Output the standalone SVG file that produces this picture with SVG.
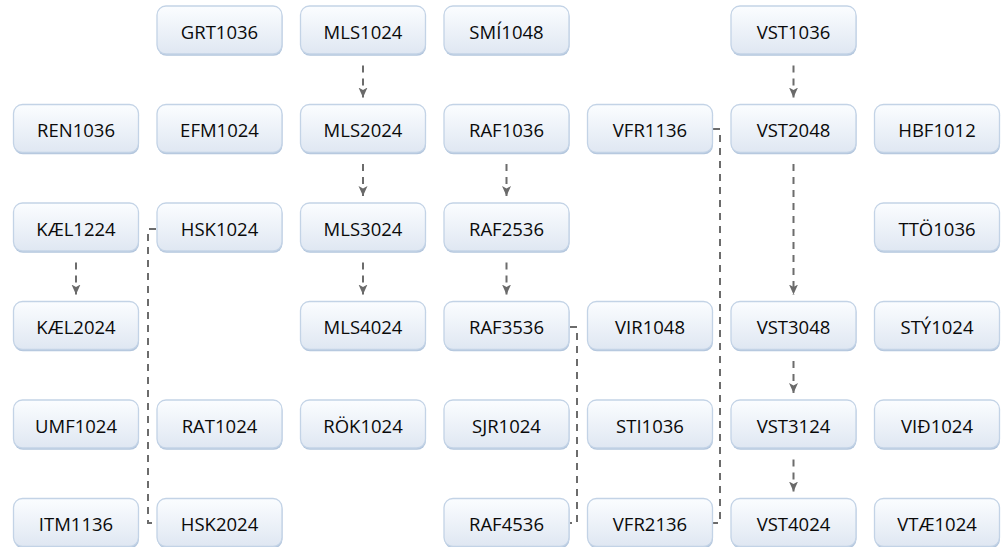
<svg xmlns="http://www.w3.org/2000/svg" width="1003" height="547" viewBox="0 0 1003 547">
<defs>
<linearGradient id="g" x1="0" y1="0" x2="0" y2="1">
<stop offset="0" stop-color="#fbfdff"/>
<stop offset="1" stop-color="#dfe7f2"/>
</linearGradient>
<marker id="ah" viewBox="0 0 10 10" refX="10" refY="5" markerWidth="10" markerHeight="10" markerUnits="userSpaceOnUse" orient="auto">
<path d="M0,0.5 L10,5 L0,9.5 L2.5,5 z" fill="#6a6a6a"/>
</marker>
<g id="box">
<rect x="0.5" y="1.8" width="125" height="48" rx="9" fill="#b3c6dd"/>
<rect x="0" y="0" width="125" height="48" rx="9" fill="url(#g)" stroke="#c3d3e6" stroke-width="1.3"/>
</g>
</defs>
<style>
text{font-family:"Open Sans","Liberation Sans",sans-serif;font-size:18.5px;fill:#0a0a0a;text-anchor:middle;dominant-baseline:central}
.c{fill:none;stroke:#6c6c6c;stroke-width:2;stroke-dasharray:7 6}
.a{marker-end:url(#ah)}
</style>
<rect width="1003" height="547" fill="#fff"/>
<g id="connectors">
<path class="c a" d="M363,65.5 V97.5"/>
<path class="c a" d="M363,164 V196"/>
<path class="c a" d="M363,262.5 V294.5"/>
<path class="c a" d="M506.5,164 V196"/>
<path class="c a" d="M506.5,262.5 V294.5"/>
<path class="c a" d="M793.5,65.5 V97.5"/>
<path class="c a" d="M793.5,164 V294.5"/>
<path class="c a" d="M793.5,361 V393"/>
<path class="c a" d="M793.5,459.5 V491.5"/>
<path class="c a" d="M76,262.5 V294.5"/>
<path class="c" d="M156,229 H148 V523 H156"/>
<path class="c" d="M570,327 H577 V523 H570"/>
<path class="c" d="M713,129 H720 V523 H713"/>
</g>
<g id="n-GRT1036" transform="translate(157,6)"><use href="#box"/><text x="62.5" y="25">GRT1036</text></g>
<g id="n-MLS1024" transform="translate(300.5,6)"><use href="#box"/><text x="62.5" y="25">MLS1024</text></g>
<g id="n-SMI1048" transform="translate(444,6)"><use href="#box"/><text x="62.5" y="25">SMÍ1048</text></g>
<g id="n-VST1036" transform="translate(731,6)"><use href="#box"/><text x="62.5" y="25">VST1036</text></g>
<g id="n-REN1036" transform="translate(13.5,104.5)"><use href="#box"/><text x="62.5" y="25">REN1036</text></g>
<g id="n-EFM1024" transform="translate(157,104.5)"><use href="#box"/><text x="62.5" y="25">EFM1024</text></g>
<g id="n-MLS2024" transform="translate(300.5,104.5)"><use href="#box"/><text x="62.5" y="25">MLS2024</text></g>
<g id="n-RAF1036" transform="translate(444,104.5)"><use href="#box"/><text x="62.5" y="25">RAF1036</text></g>
<g id="n-VFR1136" transform="translate(587.5,104.5)"><use href="#box"/><text x="62.5" y="25">VFR1136</text></g>
<g id="n-VST2048" transform="translate(731,104.5)"><use href="#box"/><text x="62.5" y="25">VST2048</text></g>
<g id="n-HBF1012" transform="translate(874.5,104.5)"><use href="#box"/><text x="62.5" y="25">HBF1012</text></g>
<g id="n-KAEL1224" transform="translate(13.5,203)"><use href="#box"/><text x="62.5" y="25">KÆL1224</text></g>
<g id="n-HSK1024" transform="translate(157,203)"><use href="#box"/><text x="62.5" y="25">HSK1024</text></g>
<g id="n-MLS3024" transform="translate(300.5,203)"><use href="#box"/><text x="62.5" y="25">MLS3024</text></g>
<g id="n-RAF2536" transform="translate(444,203)"><use href="#box"/><text x="62.5" y="25">RAF2536</text></g>
<g id="n-TTO1036" transform="translate(874.5,203)"><use href="#box"/><text x="62.5" y="25">TTÖ1036</text></g>
<g id="n-KAEL2024" transform="translate(13.5,301.5)"><use href="#box"/><text x="62.5" y="25">KÆL2024</text></g>
<g id="n-MLS4024" transform="translate(300.5,301.5)"><use href="#box"/><text x="62.5" y="25">MLS4024</text></g>
<g id="n-RAF3536" transform="translate(444,301.5)"><use href="#box"/><text x="62.5" y="25">RAF3536</text></g>
<g id="n-VIR1048" transform="translate(587.5,301.5)"><use href="#box"/><text x="62.5" y="25">VIR1048</text></g>
<g id="n-VST3048" transform="translate(731,301.5)"><use href="#box"/><text x="62.5" y="25">VST3048</text></g>
<g id="n-STY1024" transform="translate(874.5,301.5)"><use href="#box"/><text x="62.5" y="25">STÝ1024</text></g>
<g id="n-UMF1024" transform="translate(13.5,400)"><use href="#box"/><text x="62.5" y="25">UMF1024</text></g>
<g id="n-RAT1024" transform="translate(157,400)"><use href="#box"/><text x="62.5" y="25">RAT1024</text></g>
<g id="n-ROK1024" transform="translate(300.5,400)"><use href="#box"/><text x="62.5" y="25">RÖK1024</text></g>
<g id="n-SJR1024" transform="translate(444,400)"><use href="#box"/><text x="62.5" y="25">SJR1024</text></g>
<g id="n-STI1036" transform="translate(587.5,400)"><use href="#box"/><text x="62.5" y="25">STI1036</text></g>
<g id="n-VST3124" transform="translate(731,400)"><use href="#box"/><text x="62.5" y="25">VST3124</text></g>
<g id="n-VID1024" transform="translate(874.5,400)"><use href="#box"/><text x="62.5" y="25">VIÐ1024</text></g>
<g id="n-ITM1136" transform="translate(13.5,498.5)"><use href="#box"/><text x="62.5" y="25">ITM1136</text></g>
<g id="n-HSK2024" transform="translate(157,498.5)"><use href="#box"/><text x="62.5" y="25">HSK2024</text></g>
<g id="n-RAF4536" transform="translate(444,498.5)"><use href="#box"/><text x="62.5" y="25">RAF4536</text></g>
<g id="n-VFR2136" transform="translate(587.5,498.5)"><use href="#box"/><text x="62.5" y="25">VFR2136</text></g>
<g id="n-VST4024" transform="translate(731,498.5)"><use href="#box"/><text x="62.5" y="25">VST4024</text></g>
<g id="n-VTAE1024" transform="translate(874.5,498.5)"><use href="#box"/><text x="62.5" y="25">VTÆ1024</text></g>
</svg>
